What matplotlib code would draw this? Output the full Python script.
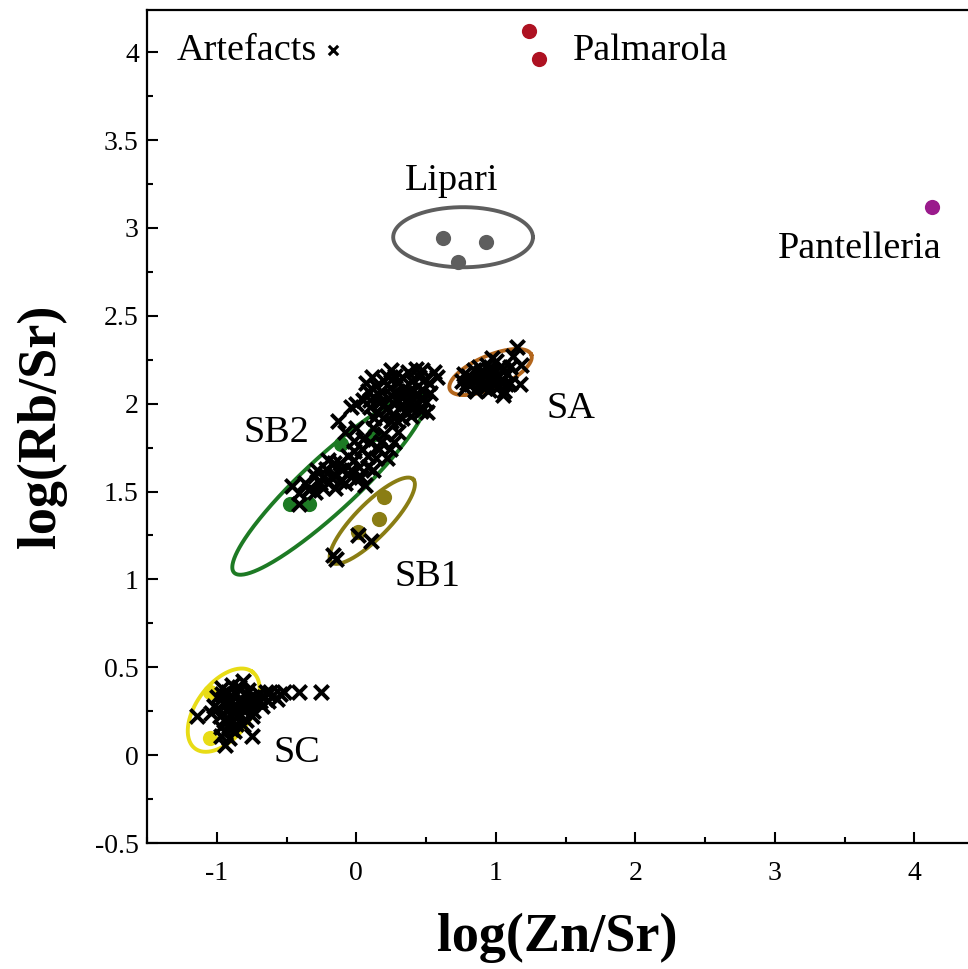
import numpy as np
import matplotlib
matplotlib.use("Agg")
import matplotlib.pyplot as plt

plt.rcParams['font.family'] = ['Liberation Serif', 'DejaVu Serif']
plt.rcParams['axes.unicode_minus'] = False

# source samples (filled circles)
palmarola_x = [1.24, 1.31]
palmarola_y = [4.12, 3.96]
pantelleria_x = [4.13]
pantelleria_y = [3.12]
lipari_x = [0.62, 0.93, 0.73]
lipari_y = [2.94, 2.92, 2.805]
sb2_x = [-0.107, -0.479, -0.336, 0.129]
sb2_y = [1.77, 1.428, 1.428, 1.827]
sb1_x = [0.20, 0.165, 0.014]
sb1_y = [1.468, 1.343, 1.269]
sc_x = [-1.05, -1.05]
sc_y = [0.36, 0.10]

# artefacts (crosses)
art_sa_x = [0.76, 0.78, 0.80, 0.82, 0.84, 0.85, 0.87, 0.88, 0.90, 0.91, 0.93, 0.94, 0.95,
            0.96, 0.98, 0.99, 1.00, 1.01, 1.02, 1.04, 1.05, 1.06, 1.08, 1.10, 1.12, 1.15, 1.18,
            1.17, 1.05, 0.77, 0.86, 0.97, 1.10,
            0.79, 0.89, 0.92, 1.00, 1.03, 0.83, 0.97, 1.07, 0.88, 0.95]
art_sa_y = [2.13, 2.09, 2.16, 2.11, 2.19, 2.08, 2.14, 2.21, 2.10, 2.17, 2.12, 2.22, 2.08,
            2.15, 2.19, 2.11, 2.24, 2.09, 2.16, 2.13, 2.20, 2.07, 2.17, 2.12, 2.27, 2.32, 2.22,
            2.11, 2.05, 2.17, 2.07, 2.26, 2.21,
            2.12, 2.18, 2.09, 2.15, 2.21, 2.14, 2.12, 2.11, 2.12, 2.19]
art_sb_x = [0.05, 0.08, 0.10, 0.12, 0.14, 0.15, 0.17, 0.18, 0.20, 0.21, 0.23, 0.24, 0.26, 0.27,
            0.28, 0.30, 0.31, 0.32, 0.34, 0.35, 0.36, 0.38, 0.40, 0.41, 0.42, 0.44, 0.46, 0.48,
            0.50, 0.52, 0.43, 0.56, 0.39, 0.22, 0.13, 0.00, -0.04, 0.28, 0.46, 0.33,
            0.07, 0.11, 0.19, 0.25, 0.29, 0.33, 0.37, 0.45, 0.49, 0.53, 0.51, 0.40, 0.16, 0.25,
            0.35, 0.30, 0.20, 0.38, 0.44, 0.10, 0.47, 0.58,
            -0.13, -0.08, 0.05, 0.12, 0.20, 0.27, 0.16, 0.08, 0.22, -0.02, 0.02, 0.12, -0.06, -0.12,
            -0.18, -0.22, -0.26, -0.30, -0.33, -0.37, -0.41, -0.46, -0.41, -0.34, -0.15, -0.08, 0.00,
            0.06, -0.20, -0.02, 0.25, 0.30,
            -0.28, -0.24, -0.20, -0.16, -0.12, -0.04, -0.02, 0.04, 0.10, -0.06, 0.14, 0.18, -0.16,
            -0.10, 0.03, -0.24, -0.30, 0.08, 0.24, 0.00,
            0.014, 0.107, -0.165, -0.143]
art_sb_y = [2.02, 2.07, 1.98, 2.04, 2.10, 1.95, 2.01, 2.07, 2.13, 1.97, 2.03, 2.09, 1.94, 2.00,
            2.06, 2.12, 1.98, 2.04, 2.09, 1.96, 2.02, 2.07, 2.13, 1.99, 2.05, 2.10, 2.03, 2.08,
            2.01, 2.12, 2.20, 2.18, 1.93, 2.16, 1.92, 2.00, 1.98, 2.16, 1.96, 1.92,
            2.12, 2.15, 1.92, 2.19, 1.90, 2.15, 2.18, 2.15, 2.14, 2.06, 1.95, 1.97, 2.05, 2.05,
            2.06, 2.02, 2.00, 2.00, 2.00, 2.02, 2.19, 2.15,
            1.90, 1.84, 1.80, 1.86, 1.83, 1.78, 1.74, 1.70, 1.69, 1.73, 1.64, 1.62, 1.60, 1.66,
            1.58, 1.63, 1.55, 1.59, 1.52, 1.55, 1.49, 1.53, 1.43, 1.51, 1.52, 1.55, 1.57,
            1.54, 1.68, 1.79, 1.90, 1.84,
            1.62, 1.58, 1.55, 1.60, 1.56, 1.62, 1.68, 1.74, 1.78, 1.70, 1.69, 1.78, 1.66,
            1.62, 1.58, 1.52, 1.50, 1.64, 1.74, 1.86,
            1.25, 1.22, 1.14, 1.115]
art_sc_x = [-1.14, -0.94, -0.75, -0.41, -0.25,
            -1.02, -1.00, -0.98, -0.97, -0.95, -0.93, -0.92, -0.90, -0.89, -0.87, -0.86, -0.85,
            -0.83, -0.82, -0.80, -0.79, -0.77, -0.76, -0.74, -0.72, -0.70, -0.68, -0.66, -0.63,
            -0.60, -0.57, -0.94, -0.88, -0.96, -0.84, -0.78, -1.04, -0.91, -0.75, -0.81, -0.89,
            -0.81, -0.52,
            -0.99, -0.96, -0.92, -0.88, -0.84, -0.78, -0.73, -0.69, -0.65, -0.95, -0.90, -0.86,
            -0.97, -0.62, -0.55]
art_sc_y = [0.22, 0.06, 0.11, 0.36, 0.36,
            0.28, 0.33, 0.22, 0.16, 0.30, 0.25, 0.36, 0.19, 0.31, 0.27, 0.35, 0.22,
            0.30, 0.26, 0.34, 0.20, 0.29, 0.33, 0.25, 0.31, 0.35, 0.28, 0.33, 0.31,
            0.34, 0.32, 0.13, 0.14, 0.38, 0.39, 0.37, 0.24, 0.10, 0.22, 0.17, 0.40,
            0.42, 0.36,
            0.27, 0.35, 0.30, 0.24, 0.30, 0.27, 0.33, 0.31, 0.36, 0.20, 0.15, 0.18,
            0.11, 0.36, 0.35]

# ellipses: centre, half major axis vector, half minor axis vector (data units)
ell_names = ['Lipari', 'SA', 'SB2', 'SB1', 'SC']
ell_centre = [(0.765, 2.947), (0.962, 2.180), (-0.193, 1.542), (0.114, 1.334), (-0.951, 0.256)]
ell_major = [(0.501, 0.0), (0.292, 0.099), (0.684, 0.503), (0.293, 0.236), (0.206, 0.218)]
ell_minor = [(0.0, 0.171), (0.045, -0.086), (0.131, -0.113), (0.087, -0.068), (0.155, -0.093)]
ell_colors = ['#5e5e5e', '#b3661c', '#1d7a24', '#8a7d14', '#e8dc16']

fig = plt.figure(figsize=(9.68, 9.69), dpi=100)
ax = fig.add_axes([0.152, 0.130, 0.848, 0.8597])

# ellipse outlines
t = np.linspace(0, 2 * np.pi, 300)
for c, u, v, col in zip(ell_centre, ell_major, ell_minor, ell_colors):
    ex = c[0] + u[0] * np.cos(t) + v[0] * np.sin(t)
    ey = c[1] + u[1] * np.cos(t) + v[1] * np.sin(t)
    ax.plot(ex, ey, color=col, lw=2.8, zorder=2)

# source dots
dot = dict(s=120, linewidths=0, zorder=3)
ax.scatter(palmarola_x, palmarola_y, color='#ae1222', **dot)
ax.scatter(pantelleria_x, pantelleria_y, color='#9a1b8c', **dot)
ax.scatter(lipari_x, lipari_y, color='#5e5e5e', **dot)
ax.scatter(sb2_x, sb2_y, color='#1d7a24', **dot)
ax.scatter(sb1_x, sb1_y, color='#8a7d14', **dot)
ax.scatter(sc_x, sc_y, color='#e8dc16', **dot)

# artefact crosses
cross = dict(marker='x', s=105, color='black', linewidths=2.8, zorder=4)
ax.scatter(art_sa_x, art_sa_y, **cross)
ax.scatter(art_sb_x, art_sb_y, **cross)
ax.scatter(art_sc_x, art_sc_y, **cross)

# labels
fs = 27.5
ax.text(-1.29, 4.01, 'Artefacts', fontsize=fs, ha='left', va='center')
ax.scatter([-0.17], [4.01], marker='x', s=45, color='black', linewidths=2.2)
ax.text(1.55, 4.01, 'Palmarola', fontsize=fs, ha='left', va='center')
ax.text(0.68, 3.27, 'Lipari', fontsize=fs, ha='center', va='center')
ax.text(3.61, 2.88, 'Pantelleria', fontsize=fs, ha='center', va='center')
ax.text(1.36, 1.97, 'SA', fontsize=fs, ha='left', va='center')
ax.text(-0.81, 1.835, 'SB2', fontsize=fs, ha='left', va='center')
ax.text(0.27, 1.014, 'SB1', fontsize=fs, ha='left', va='center')
ax.text(-0.594, 0.013, 'SC', fontsize=fs, ha='left', va='center')

# axes styling
ax.set_xlim(-1.49, 4.385)
ax.set_ylim(-0.5, 4.24)
ax.set_xticks([-1, 0, 1, 2, 3, 4])
ax.set_xticks(np.arange(-1.5, 4.5, 0.5), minor=True)
ax.set_yticks(np.arange(-0.5, 4.01, 0.5))
ax.set_yticklabels(['-0.5', '0', '0.5', '1', '1.5', '2', '2.5', '3', '3.5', '4'])
ax.set_yticks(np.arange(-0.5, 4.25, 0.25), minor=True)
ax.tick_params(which='both', direction='in', width=1.5, labelsize=20)
ax.tick_params(which='major', length=8)
ax.tick_params(which='minor', length=4)
ax.tick_params(axis='x', pad=13)
ax.tick_params(axis='y', pad=6)
for s in ['left', 'top', 'bottom']:
    ax.spines[s].set_linewidth(1.6)
ax.spines['right'].set_visible(False)

ax.set_xlabel('log(Zn/Sr)', fontsize=39, fontweight='bold', labelpad=19)
ax.set_ylabel('log(Rb/Sr)', fontsize=39, fontweight='bold', labelpad=20)

fig.savefig('out.png', dpi=100)
